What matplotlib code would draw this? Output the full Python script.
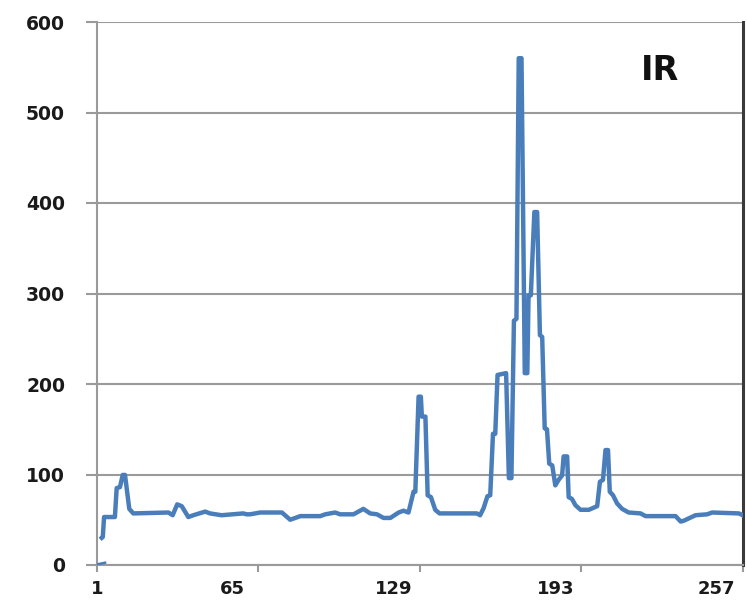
import matplotlib
matplotlib.use("Agg")
import matplotlib.pyplot as plt
from matplotlib.transforms import ScaledTranslation

# Main IR series: (index, value) vertices
ir_x = [2.9, 3.3, 3.8, 8.1, 8.8, 10.1, 11.2, 12.1, 13.8, 15.4, 29.3, 31, 32.8, 34.6, 37.2, 39.2,
        43.9, 45.8, 50.4, 59, 60.3, 61.7, 65.7, 74.3, 77.6, 81.6, 89.5, 91.5, 95.4, 97.4, 102.7,
        106.6, 109.3, 112, 114.6, 117.3, 120.6, 122.5, 124.5, 126.5, 127.2, 128.5, 129.4, 129.8,
        131.2, 132.1, 133.4, 135.1, 136.8, 151.6, 152.9, 154.3, 155.8, 156.9, 158, 158.9, 159.8,
        163.2, 164.3, 165.3, 166.3, 167.3, 168.2, 169.3, 170.6, 171.6, 172.1, 173, 174.4, 175.5,
        176.6, 177.5, 178.5, 179.4, 180.3, 181.5, 182.7, 184, 185.4, 186, 187.4, 188, 189.3,
        190.7, 192.7, 196, 199.3, 200.4, 201.6, 202.6, 203.6, 204.3, 205.6, 207.2, 209.2, 211.8,
        216.5, 218.5, 230.4, 232.4, 233.7, 238.3, 242.9, 244.9, 255.5, 257]
ir_y = [30, 31, 53, 53, 85, 86, 99.5, 99.5, 62, 57, 58, 55, 67, 65, 53, 55,
        59, 57, 55, 57, 56, 56, 58, 58, 50, 54, 54, 56, 58, 56, 56,
        62, 57, 56, 52, 52, 58, 60, 58, 81, 81, 186, 186, 164,
        164, 77, 75, 61, 57, 57, 55, 63, 76, 77, 145, 145, 210,
        212, 96, 96, 270, 272, 560, 560, 212, 212, 298, 298, 390, 390,
        254, 252, 151, 150, 112, 110, 88, 94, 99, 120, 120, 75, 73,
        66, 61, 61, 65, 92, 94, 127, 127, 81, 77, 68, 62, 58,
        57, 54, 54, 48, 49, 55, 56, 58, 57, 55]

# Small near-zero segment at the start
low_x = [1, 4.2]
low_y = [0.7, 2.5]

y_ticks = [0, 100, 200, 300, 400, 500, 600]
x_ticks = [1, 65, 129, 193, 257]
x_labels = ["1", "65", "129", "193", "257"]
title_text = "IR"

line_color = "#4a7ebb"
grid_color = "#9a9a9a"

fig = plt.figure(figsize=(7.47, 6.0), dpi=100)
ax = fig.add_axes([97 / 747, 1 - 565 / 600, (742.7 - 97) / 747, (565 - 22) / 600])

ax.plot(ir_x, ir_y, color=line_color, lw=3.2, solid_joinstyle="round", zorder=3)
ax.plot(low_x, low_y, color=line_color, lw=1.8, zorder=3)

ax.set_xlim(1, 257)
ax.set_ylim(0, 600)
ax.set_yticks(y_ticks)
ax.set_xticks(x_ticks)
ax.set_xticklabels(x_labels)

ax.grid(axis="y", color=grid_color, lw=1.5, zorder=1)
ax.set_axisbelow(True)

ax.spines["top"].set_visible(False)
ax.spines["left"].set_color(grid_color)
ax.spines["left"].set_linewidth(1.5)
ax.spines["bottom"].set_color(grid_color)
ax.spines["bottom"].set_linewidth(1.5)
ax.spines["right"].set_color("#3a3a3a")
ax.spines["right"].set_linewidth(2.2)

ax.tick_params(axis="y", length=8, width=1.5, color=grid_color, pad=15,
               labelsize=13.5, labelcolor="#1a1a1a")
ax.tick_params(axis="x", length=5, width=1.5, color=grid_color, pad=6,
               labelsize=13, labelcolor="#1a1a1a")
for lbl in ax.get_yticklabels() + ax.get_xticklabels():
    lbl.set_fontweight("bold")

offset = ScaledTranslation(-26 / 100, 0, fig.dpi_scale_trans)
for lbl in ax.get_xticklabels()[1:]:
    lbl.set_transform(lbl.get_transform() + offset)

ax.text(660 / 747, 1 - 70 / 600, title_text, transform=fig.transFigure,
        ha="center", va="center", fontsize=24, fontweight="bold", color="#111111")

fig.savefig("out.png", dpi=100)
